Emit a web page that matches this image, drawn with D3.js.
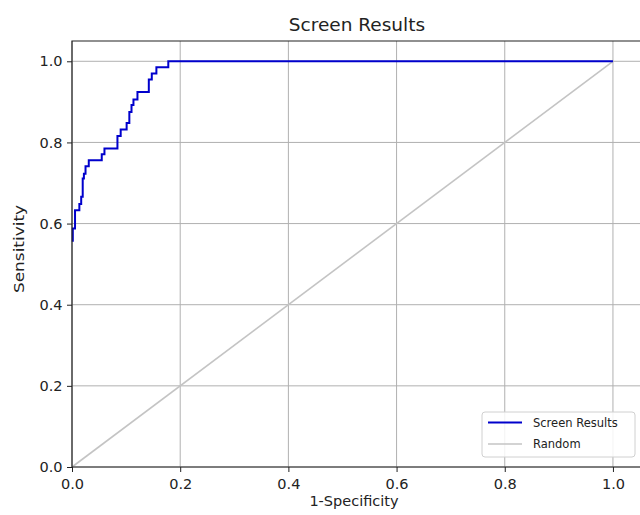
<!DOCTYPE html>
<html>
<head>
<meta charset="utf-8">
<script src="https://cdn.jsdelivr.net/npm/d3@7"></script>
<style>
  body { margin: 0; background: white; }
  svg { display: block; font-family: 'DejaVu Sans', sans-serif; }
</style>
</head>
<body>
<script>
const width = 640;
const height = 515;

// ROC curve (1-specificity, sensitivity)
const fpr = [0.0015, 0.0015, 0.0056, 0.0056, 0.0136, 0.0136, 0.017, 0.017, 0.0198, 0.0198, 0.022, 0.022,
  0.025, 0.025, 0.031, 0.031, 0.055, 0.055, 0.06, 0.06, 0.084, 0.084, 0.09, 0.09, 0.101, 0.101,
  0.106, 0.106, 0.11, 0.11, 0.1136, 0.1136, 0.121, 0.121, 0.142, 0.142, 0.1475, 0.1475,
  0.156, 0.156, 0.178, 0.178, 1.0];
const tpr = [0.555, 0.588, 0.588, 0.633, 0.633, 0.648, 0.648, 0.666, 0.666, 0.711, 0.711, 0.723,
  0.723, 0.741, 0.741, 0.756, 0.756, 0.771, 0.771, 0.785, 0.785, 0.816, 0.816, 0.832, 0.832, 0.848,
  0.848, 0.875, 0.875, 0.892, 0.892, 0.906, 0.906, 0.924, 0.924, 0.955, 0.955, 0.970,
  0.970, 0.985, 0.985, 1.0, 1.0];
const randomX = [0, 1];
const randomY = [0, 1];
const ticks = [0, 0.2, 0.4, 0.6, 0.8, 1.0];
const seriesNames = ['Screen Results', 'Random'];
const seriesColors = ['#0000cc', '#c4c4c4'];

const plot = { left: 72, top: 41, right: 640, bottom: 467 };

const svg = d3.select('body').append('svg')
  .attr('width', width).attr('height', height);

const x = d3.scaleLinear().domain([0, 1.05]).range([plot.left, plot.right]);
const y = d3.scaleLinear().domain([0, 1.05]).range([plot.bottom, plot.top]);

// grid
svg.append('g').selectAll('line').data(ticks).join('line')
  .attr('x1', d => x(d)).attr('x2', d => x(d))
  .attr('y1', plot.top).attr('y2', plot.bottom)
  .attr('stroke', '#b0b0b0').attr('stroke-width', 1);
svg.append('g').selectAll('line').data(ticks).join('line')
  .attr('y1', d => y(d)).attr('y2', d => y(d))
  .attr('x1', plot.left).attr('x2', plot.right)
  .attr('stroke', '#b0b0b0').attr('stroke-width', 1);

// lines
const line = d3.line().x(d => x(d[0])).y(d => y(d[1]));
svg.append('path')
  .datum(randomX.map((v, i) => [v, randomY[i]]))
  .attr('d', line).attr('fill', 'none')
  .attr('stroke', seriesColors[1]).attr('stroke-width', 1.6);
svg.append('path')
  .datum(fpr.map((v, i) => [v, tpr[i]]))
  .attr('d', line).attr('fill', 'none')
  .attr('stroke', seriesColors[0]).attr('stroke-width', 2);

// axes
const axisX = d3.axisBottom(x).tickValues(ticks).tickFormat(d3.format('.1f')).tickSize(5).tickSizeOuter(0);
const axisY = d3.axisLeft(y).tickValues(ticks).tickFormat(d3.format('.1f')).tickSize(5).tickSizeOuter(0);

const gx = svg.append('g').attr('transform', `translate(0,${plot.bottom})`).call(axisX);
const gy = svg.append('g').attr('transform', `translate(${plot.left},0)`).call(axisY);
[gx, gy].forEach(g => {
  g.select('.domain').remove();
  g.selectAll('text').attr('font-size', 14.5).attr('fill', '#222')
    .attr('font-family', 'DejaVu Sans, sans-serif');
  g.selectAll('line').attr('stroke', '#222');
});
gx.selectAll('text').attr('dy', '0.95em');
gy.selectAll('text').attr('dx', '-0.1em');

// spines (left, top, bottom; right one falls at the edge)
svg.append('path')
  .attr('d', `M${plot.right},${plot.top}H${plot.left}V${plot.bottom}H${plot.right}`)
  .attr('fill', 'none').attr('stroke', '#222').attr('stroke-width', 1.2);

// titles
svg.append('text').attr('x', 357).attr('y', 31)
  .attr('text-anchor', 'middle').attr('font-size', 18.5).attr('fill', '#222')
  .text('Screen Results');
svg.append('text').attr('x', 354).attr('y', 506)
  .attr('text-anchor', 'middle').attr('font-size', 14.5).attr('fill', '#222')
  .text('1-Specificity');
svg.append('text')
  .attr('transform', 'translate(24,249) rotate(-90) scale(1.17,1)')
  .attr('text-anchor', 'middle').attr('font-size', 14.5).attr('fill', '#222')
  .text('Sensitivity');

// legend
const legend = svg.append('g').attr('transform', 'translate(482,412)');
legend.append('rect')
  .attr('width', 153).attr('height', 45).attr('rx', 3)
  .attr('fill', 'white').attr('fill-opacity', 0.85)
  .attr('stroke', '#d0d0d0');
seriesNames.forEach((name, i) => {
  const row = legend.append('g').attr('transform', `translate(0,${10.5 + i * 21.5})`);
  row.append('line').attr('x1', 6).attr('x2', 40)
    .attr('stroke', seriesColors[i]).attr('stroke-width', i === 0 ? 2 : 1.6);
  row.append('text').attr('x', 51).attr('y', 4)
    .attr('font-size', 11.5).attr('fill', '#222').text(name);
});
</script>
</body>
</html>
